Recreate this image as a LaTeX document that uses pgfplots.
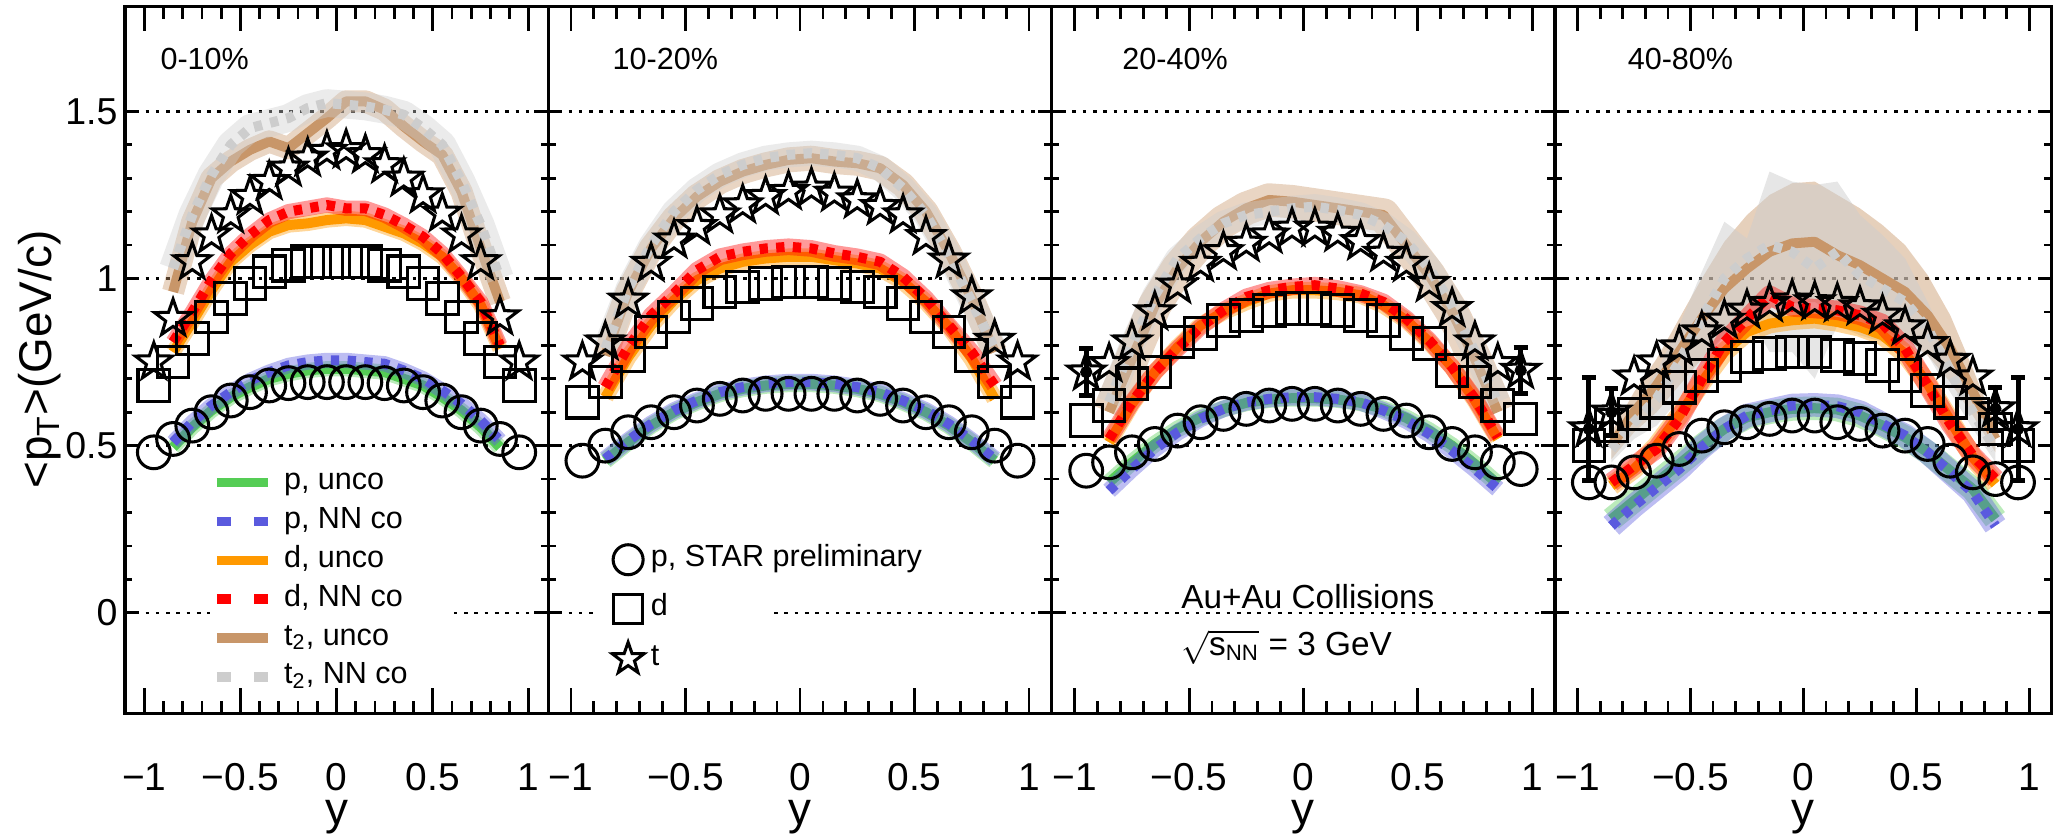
\documentclass[border=0pt]{standalone}
\usepackage{fontspec}
\setmainfont{Liberation Sans}
\usepackage{amsmath}
\usepackage{pgfplots}
\usepackage{pgfplotstable}
\pgfplotsset{compat=1.18}
\usepgfplotslibrary{fillbetween}

\definecolor{cp}{RGB}{85,205,85}
\definecolor{cpn}{RGB}{90,90,222}
\definecolor{cd}{RGB}{255,153,0}
\definecolor{cdn}{RGB}{255,0,0}
\definecolor{ct}{RGB}{200,150,105}
\definecolor{ctn}{RGB}{205,205,205}

% open five-pointed star
\pgfdeclareplotmark{ostar}{%
  \pgfpathmoveto{\pgfpointpolar{90}{\pgfplotmarksize}}%
  \pgfpathlineto{\pgfpointpolar{126}{0.4\pgfplotmarksize}}%
  \pgfpathlineto{\pgfpointpolar{162}{\pgfplotmarksize}}%
  \pgfpathlineto{\pgfpointpolar{198}{0.4\pgfplotmarksize}}%
  \pgfpathlineto{\pgfpointpolar{234}{\pgfplotmarksize}}%
  \pgfpathlineto{\pgfpointpolar{270}{0.4\pgfplotmarksize}}%
  \pgfpathlineto{\pgfpointpolar{306}{\pgfplotmarksize}}%
  \pgfpathlineto{\pgfpointpolar{342}{0.4\pgfplotmarksize}}%
  \pgfpathlineto{\pgfpointpolar{18}{\pgfplotmarksize}}%
  \pgfpathlineto{\pgfpointpolar{54}{0.4\pgfplotmarksize}}%
  \pgfpathclose\pgfusepathqstroke}

% data: x, p, d, t
\pgfplotstableread{
x p d t
-0.95 0.48 0.68 0.75
-0.85 0.52 0.75 0.88
-0.75 0.56 0.82 1.05
-0.65 0.60 0.885 1.13
-0.55 0.635 0.94 1.19
-0.45 0.66 0.985 1.245
-0.35 0.68 1.02 1.29
-0.25 0.687 1.04 1.33
-0.15 0.69 1.05 1.36
-0.05 0.69 1.05 1.38
0.05 0.69 1.05 1.385
0.15 0.69 1.05 1.37
0.25 0.687 1.04 1.34
0.35 0.68 1.02 1.30
0.45 0.66 0.985 1.25
0.55 0.635 0.94 1.195
0.65 0.60 0.885 1.13
0.75 0.56 0.82 1.05
0.85 0.52 0.75 0.885
0.95 0.48 0.68 0.75
}\dOne
\pgfplotstableread{
x p d t
-0.95 0.455 0.63 0.75
-0.85 0.50 0.69 0.81
-0.75 0.54 0.77 0.935
-0.65 0.57 0.84 1.045
-0.55 0.60 0.885 1.115
-0.45 0.62 0.925 1.155
-0.35 0.64 0.96 1.19
-0.25 0.65 0.975 1.22
-0.15 0.655 0.985 1.245
-0.05 0.655 0.99 1.26
0.05 0.655 0.99 1.27
0.15 0.655 0.985 1.255
0.25 0.65 0.975 1.235
0.35 0.64 0.96 1.215
0.45 0.62 0.925 1.19
0.55 0.60 0.885 1.125
0.65 0.57 0.84 1.055
0.75 0.54 0.77 0.945
0.85 0.50 0.69 0.815
0.95 0.455 0.63 0.75
}\dTwo
\pgfplotstableread{
x p d t
-0.95 0.425 0.575 0.72
-0.85 0.45 0.62 0.745
-0.75 0.48 0.685 0.81
-0.65 0.505 0.72 0.90
-0.55 0.545 0.81 0.98
-0.45 0.57 0.835 1.045
-0.35 0.595 0.875 1.08
-0.25 0.61 0.89 1.105
-0.15 0.62 0.905 1.13
-0.05 0.625 0.91 1.15
0.05 0.625 0.91 1.15
0.15 0.62 0.905 1.135
0.25 0.61 0.89 1.11
0.35 0.595 0.875 1.075
0.45 0.575 0.835 1.045
0.55 0.54 0.805 0.985
0.65 0.505 0.725 0.91
0.75 0.48 0.69 0.81
0.85 0.45 0.62 0.745
0.95 0.43 0.58 0.725
}\dThree
\pgfplotstableread{
x p d t
-0.95 0.39 0.50 0.55
-0.85 0.39 0.56 0.60
-0.75 0.42 0.595 0.705
-0.65 0.455 0.63 0.75
-0.55 0.49 0.675 0.795
-0.45 0.53 0.71 0.84
-0.35 0.555 0.74 0.875
-0.25 0.57 0.765 0.905
-0.15 0.58 0.775 0.925
-0.05 0.59 0.78 0.935
0.05 0.59 0.78 0.93
0.15 0.57 0.77 0.925
0.25 0.565 0.76 0.915
0.35 0.545 0.74 0.89
0.45 0.53 0.71 0.855
0.55 0.505 0.665 0.805
0.65 0.455 0.63 0.755
0.75 0.42 0.595 0.705
0.85 0.40 0.55 0.61
0.95 0.39 0.50 0.55
}\dFour
% t points whose error bars reach beyond the marker
\pgfplotstableread{
x t te
-0.95 0.72 0.07
0.95 0.725 0.07
}\eThree
\pgfplotstableread{
x t te
-0.95 0.55 0.155
-0.85 0.60 0.07
0.85 0.61 0.065
0.95 0.55 0.155
}\eFour

% models: unco / NN co for p, d, t2
\pgfplotstableread{
x pU pN dU dN tU tN
-0.85 0.495 0.51 0.78 0.81 0.96 1.03
-0.75 0.555 0.57 0.87 0.90 1.17 1.19
-0.65 0.605 0.62 0.965 0.995 1.30 1.31
-0.55 0.645 0.66 1.05 1.075 1.35 1.40
-0.45 0.675 0.695 1.10 1.13 1.385 1.45
-0.35 0.70 0.72 1.14 1.175 1.41 1.465
-0.25 0.715 0.74 1.16 1.20 1.39 1.48
-0.15 0.725 0.75 1.165 1.21 1.435 1.51
-0.05 0.73 0.755 1.175 1.22 1.48 1.525
0.05 0.73 0.755 1.18 1.21 1.53 1.52
0.15 0.725 0.75 1.175 1.21 1.53 1.515
0.25 0.72 0.745 1.155 1.19 1.505 1.505
0.35 0.70 0.725 1.135 1.16 1.455 1.49
0.45 0.68 0.70 1.105 1.125 1.41 1.45
0.55 0.645 0.665 1.065 1.075 1.37 1.40
0.65 0.605 0.625 1.00 1.005 1.26 1.29
0.75 0.555 0.575 0.92 0.93 1.09 1.16
0.85 0.495 0.515 0.79 0.80 0.93 1.00
}\mOne
\pgfplotstableread{
x pU pN dU dN tU tN
-0.85 0.455 0.46 0.645 0.675 0.77 0.79
-0.75 0.51 0.515 0.765 0.795 0.96 0.97
-0.65 0.56 0.565 0.86 0.89 1.09 1.10
-0.55 0.60 0.605 0.935 0.955 1.18 1.20
-0.45 0.63 0.635 0.995 1.025 1.245 1.265
-0.35 0.655 0.66 1.03 1.065 1.29 1.31
-0.25 0.67 0.675 1.05 1.08 1.32 1.34
-0.15 0.68 0.685 1.06 1.09 1.34 1.36
-0.05 0.685 0.69 1.065 1.095 1.355 1.37
0.05 0.685 0.69 1.065 1.09 1.36 1.375
0.15 0.68 0.685 1.055 1.075 1.35 1.37
0.25 0.67 0.675 1.045 1.065 1.345 1.36
0.35 0.655 0.66 1.03 1.05 1.33 1.33
0.45 0.63 0.635 0.99 1.005 1.28 1.27
0.55 0.60 0.605 0.93 0.94 1.20 1.19
0.65 0.56 0.565 0.855 0.86 1.08 1.07
0.75 0.51 0.515 0.76 0.78 0.94 0.93
0.85 0.455 0.46 0.64 0.68 0.78 0.79
}\mTwo
\pgfplotstableread{
x pU pN dU dN tU tN
-0.85 0.39 0.365 0.51 0.52 0.60 0.63
-0.75 0.45 0.43 0.625 0.63 0.76 0.80
-0.65 0.505 0.49 0.72 0.72 0.92 0.95
-0.55 0.55 0.54 0.795 0.79 1.03 1.06
-0.45 0.585 0.58 0.86 0.855 1.11 1.12
-0.35 0.61 0.61 0.90 0.905 1.17 1.165
-0.25 0.628 0.63 0.93 0.945 1.21 1.19
-0.15 0.638 0.64 0.955 0.965 1.235 1.20
-0.05 0.642 0.645 0.965 0.975 1.23 1.21
0.05 0.642 0.645 0.965 0.98 1.22 1.215
0.15 0.638 0.64 0.96 0.97 1.21 1.205
0.25 0.628 0.63 0.95 0.955 1.20 1.19
0.35 0.61 0.605 0.92 0.93 1.19 1.16
0.45 0.583 0.575 0.875 0.88 1.10 1.11
0.55 0.545 0.535 0.81 0.815 1.01 1.03
0.65 0.50 0.485 0.735 0.735 0.90 0.92
0.75 0.445 0.43 0.635 0.64 0.76 0.78
0.85 0.385 0.37 0.52 0.525 0.60 0.63
}\mThree
\pgfplotstableread{
x pU pN dU dN tU tUlo tUhi tN tNlo tNhi
-0.85 0.28 0.26 0.38 0.39 0.50 0.46 0.54 0.49 0.45 0.53
-0.75 0.335 0.32 0.43 0.44 0.60 0.54 0.66 0.57 0.52 0.62
-0.65 0.39 0.375 0.50 0.49 0.68 0.60 0.76 0.64 0.56 0.72
-0.55 0.445 0.43 0.59 0.58 0.78 0.68 0.88 0.75 0.64 0.86
-0.45 0.50 0.495 0.69 0.70 0.88 0.76 1.00 0.88 0.74 1.02
-0.35 0.55 0.55 0.78 0.81 0.97 0.83 1.11 1.00 0.83 1.17
-0.25 0.585 0.59 0.84 0.88 1.03 0.87 1.19 1.06 0.90 1.12
-0.15 0.60 0.605 0.865 0.95 1.08 0.91 1.25 1.10 0.78 1.32
-0.05 0.61 0.62 0.875 0.915 1.105 0.925 1.285 1.08 0.78 1.29
0.05 0.612 0.622 0.88 0.91 1.11 0.93 1.29 1.03 0.70 1.28
0.15 0.608 0.618 0.87 0.905 1.07 0.89 1.25 1.08 0.86 1.29
0.25 0.59 0.60 0.855 0.89 1.04 0.87 1.21 1.01 0.83 1.19
0.35 0.56 0.565 0.83 0.865 1.00 0.84 1.16 0.97 0.81 1.13
0.45 0.525 0.53 0.775 0.79 0.96 0.82 1.10 0.93 0.80 1.06
0.55 0.48 0.48 0.685 0.68 0.89 0.77 1.01 0.85 0.77 0.93
0.65 0.425 0.42 0.575 0.565 0.79 0.69 0.89 0.72 0.66 0.78
0.75 0.37 0.36 0.465 0.47 0.66 0.59 0.73 0.60 0.55 0.65
0.85 0.28 0.26 0.385 0.40 0.52 0.48 0.56 0.49 0.45 0.53
}\mFour

\pgfplotsset{
  panel/.style={
    scale only axis, height=254.5pt,
    xmin=-1.1, xmax=1.1, ymin=-0.3, ymax=1.815,
    xtick={-1,-0.5,0,0.5,1}, xticklabels={−1,−0.5,0,0.5,1},
    ytick={0,0.5,1,1.5}, yticklabels={},
    minor x tick num=4, minor y tick num=4,
    tick align=inside, xtick pos=both, ytick pos=both,
    xticklabel pos=bottom,
    xtick style={/pgfplots/major tick length=9pt,/pgfplots/minor tick length=4.5pt},
    ytick style={/pgfplots/major tick length=5pt,/pgfplots/minor tick length=2.7pt},
    tick style={black, line width=1pt},
    axis line style={line width=1.1pt},
    ymajorgrids, major grid style={black, line width=0.9pt, dash pattern=on 1.3pt off 2.4pt},
    xticklabel style={font=\fontsize{14}{14}\selectfont, anchor=base, yshift=-27.8pt},
    yticklabel style={font=\fontsize{13.5}{14}\selectfont, anchor=east, inner sep=0pt, xshift=-2.5pt},
    xlabel={y},
    xlabel style={font=\fontsize{16.5}{17}\selectfont, at={(axis description cs:0.5,-0.157)}, anchor=base},
    anchor=south west, clip mode=individual,
  },
  band/.style={line width=#1, opacity=0.4, line join=round, line cap=butt, no markers},
  cline/.style={line width=3.6pt, line join=round, line cap=butt, no markers},
  dline/.style={cline, dash pattern=on 3pt off 3pt},
  lineleg/.style={legend image code/.code={\draw[##1] (0pt,0pt) -- (18.5pt,0pt);}},
  markleg/.style={legend image code/.code={\draw[##1] plot coordinates {(0pt,0pt)};}},
}

\newcommand{\cent}[2]{\node[anchor=west, inner sep=0pt, font=\fontsize{11}{13}\selectfont] at (axis cs:#1,1.658) {#2};}

% model curves with bands: table, p band, d band
\newcommand{\pdmodels}[3]{%
  \addplot[cd, band=#3] table[x=x,y=dU]{#1};
  \addplot[cd, cline] table[x=x,y=dU]{#1};
  \addplot[cdn, band=#3] table[x=x,y=dN]{#1};
  \addplot[cdn, dline] table[x=x,y=dN]{#1};
  \addplot[cp, band=#2] table[x=x,y=pU]{#1};
  \addplot[cp, cline] table[x=x,y=pU]{#1};
  \addplot[cpn, band=#2] table[x=x,y=pN]{#1};
  \addplot[cpn, dline] table[x=x,y=pN]{#1};
}
\newcommand{\tmodels}[3]{%
  \addplot[ct, band=#2] table[x=x,y=tU]{#1};
  \addplot[ct, cline] table[x=x,y=tU]{#1};
  \addplot[ctn, band=#3] table[x=x,y=tN]{#1};
  \addplot[ctn, dline] table[x=x,y=tN]{#1};
}
\newcommand{\datapoints}[1]{%
  \addplot[only marks, mark=o, mark size=5.9pt, mark options={line width=1.1pt}] table[x=x,y=p]{#1};
  \addplot[only marks, mark=square, mark size=5.7pt, mark options={line width=1.1pt}] table[x=x,y=d]{#1};
  \addplot[only marks, mark=ostar, mark size=7pt, mark options={line width=1.1pt}] table[x=x,y=t]{#1};
}
\newcommand{\terrors}[1]{%
  \addplot[only marks, mark=none,
    error bars/.cd, y dir=both, y explicit,
    error bar style={draw=black, line width=1.8pt},
    error mark options={draw=black, rotate=90, mark size=2.5pt, line width=1.8pt}]
    table[x=x,y=t,y error=te]{#1};
}

\begin{document}
\begin{tikzpicture}
% ---- 0-10%
\begin{axis}[panel, at={(0pt,0pt)}, width=152.3pt,
  yticklabels={0,0.5,1,1.5},
  ylabel={<p\textsubscript{T}>(GeV/c)},
  ylabel style={font=\fontsize{16.5}{17}\selectfont, at={(axis description cs:-0.201,0.5)}, anchor=center},
  legend style={at={(axis cs:-0.65,0.437)}, anchor=north west, draw=none, fill=none,
    font=\fontsize{11}{13}\selectfont, row sep=3pt, column sep=4pt, inner sep=0pt,
    nodes={inner sep=0pt, text height=8pt, text depth=3pt}},
  legend cell align=left]
\addlegendimage{cp, line width=3.4pt, lineleg}
\addlegendentry{p, unco}
\addlegendimage{cpn, line width=3.4pt, dash pattern=on 5pt off 8.5pt, lineleg}
\addlegendentry{p, NN co}
\addlegendimage{cd, line width=3.4pt, lineleg}
\addlegendentry{d, unco}
\addlegendimage{cdn, line width=3.4pt, dash pattern=on 5pt off 8.5pt, lineleg}
\addlegendentry{d, NN co}
\addlegendimage{ct, line width=3.4pt, lineleg}
\addlegendentry{t\textsubscript{2}, unco}
\addlegendimage{ctn, line width=3.4pt, dash pattern=on 5pt off 8.5pt, lineleg}
\addlegendentry{t\textsubscript{2}, NN co}
\fill[white] (axis cs:-0.658,-0.04) rectangle (axis cs:0.606,0.04);
\tmodels{\mOne}{8pt}{10pt}
\pdmodels{\mOne}{5.5pt}{5.5pt}
\datapoints{\dOne}
\cent{-0.918}{0-10\%}
\end{axis}
% ---- 10-20%
\begin{axis}[panel, at={(152.3pt,0pt)}, width=181.4pt,
  legend style={at={(axis cs:-0.822,0.206)}, anchor=north west, draw=none, fill=none,
    font=\fontsize{11}{13}\selectfont, row sep=6.6pt, column sep=2.5pt, inner sep=0pt,
    nodes={inner sep=0pt, text height=8pt, text depth=3pt}},
  legend cell align=left]
\addlegendimage{only marks, mark=o, mark size=5.4pt, mark options={line width=1.1pt}, markleg}
\addlegendentry{p, STAR preliminary}
\addlegendimage{only marks, mark=square, mark size=5.2pt, mark options={line width=1.1pt}, markleg}
\addlegendentry{d}
\addlegendimage{only marks, mark=ostar, mark size=6pt, mark options={line width=1.1pt}, markleg}
\addlegendentry{t}
\fill[white] (axis cs:-0.88,-0.04) rectangle (axis cs:-0.14,0.04);
\tmodels{\mTwo}{9pt}{9pt}
\pdmodels{\mTwo}{6pt}{6pt}
\datapoints{\dTwo}
\cent{-0.82}{10-20\%}
\end{axis}
% ---- 20-40%
\begin{axis}[panel, at={(333.7pt,0pt)}, width=181.1pt]
\tmodels{\mThree}{12pt}{9pt}
\pdmodels{\mThree}{6pt}{6pt}
\datapoints{\dThree}
\terrors{\eThree}
\cent{-0.794}{20-40\%}
\node[anchor=west, inner sep=0pt, font=\fontsize{12}{14}\selectfont] at (axis cs:-0.536,0.047) {Au+Au Collisions};
\node[anchor=west, inner sep=0pt, font=\fontsize{12}{14}\selectfont] at (axis cs:-0.536,-0.103) {$\sqrt{\text{s}_{\text{NN}}}$ = 3 GeV};
\end{axis}
% ---- 40-80%
\begin{axis}[panel, at={(514.8pt,0pt)}, width=178.9pt]
\addplot[draw=none, name path=bu, forget plot] table[x=x,y=tUhi]{\mFour};
\addplot[draw=none, name path=bl, forget plot] table[x=x,y=tUlo]{\mFour};
\addplot[fill=ct, fill opacity=0.45, draw=none] fill between[of=bu and bl];
\addplot[ct, cline] table[x=x,y=tU]{\mFour};
\addplot[draw=none, name path=gu, forget plot] table[x=x,y=tNhi]{\mFour};
\addplot[draw=none, name path=gl, forget plot] table[x=x,y=tNlo]{\mFour};
\addplot[fill=ctn, fill opacity=0.5, draw=none] fill between[of=gu and gl];
\addplot[ctn, dline] table[x=x,y=tN]{\mFour};
\pdmodels{\mFour}{8.5pt}{7pt}
\datapoints{\dFour}
\terrors{\eFour}
\cent{-0.78}{40-80\%}
\end{axis}
\pgfresetboundingbox
\path[use as bounding box] (-45pt,-43.2pt) rectangle (695.9pt,256.7pt);
\end{tikzpicture}
\end{document}
